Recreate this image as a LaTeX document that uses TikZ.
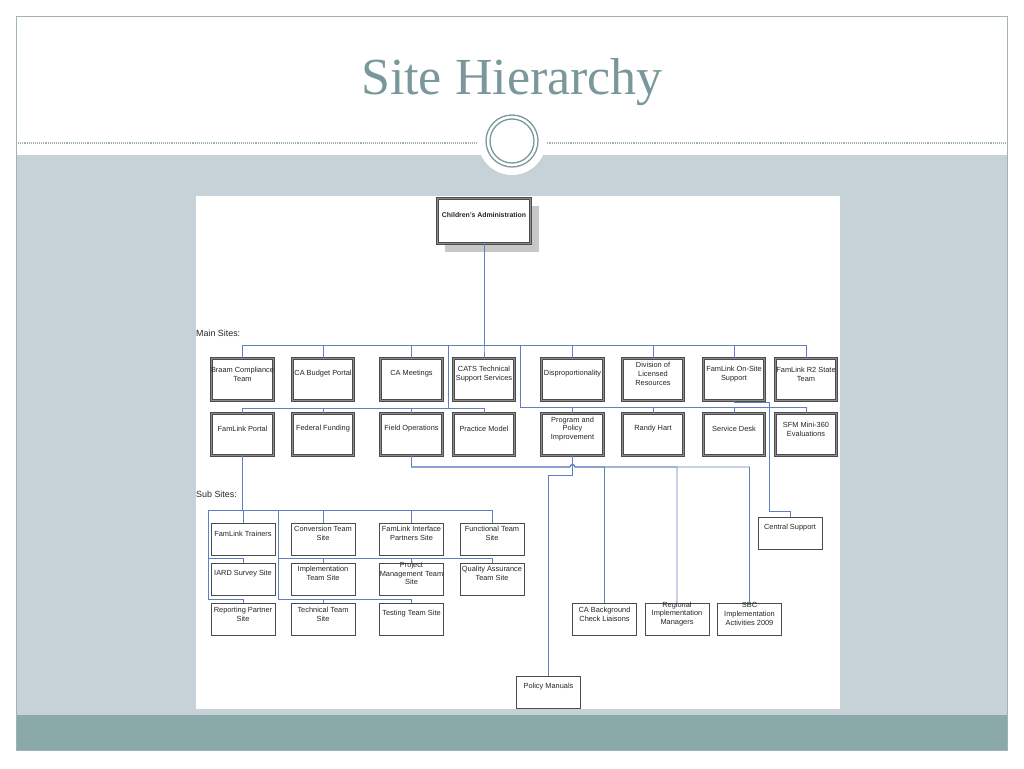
\documentclass[tikz,border=0pt]{standalone}
\usepackage{fontspec}
\setmainfont{Liberation Serif}
\setsansfont{Liberation Sans}
\usetikzlibrary{shapes,arrows,positioning,shadows}
\definecolor{bandgray}{RGB}{198,210,216}
\definecolor{footteal}{RGB}{138,170,170}
\definecolor{titleteal}{RGB}{122,152,155}
\definecolor{framegray}{RGB}{160,178,180}
\definecolor{linkblue}{RGB}{95,128,190}

\begin{document}
\begin{tikzpicture}[x=1pt,y=-1pt]
 \tikzset{site node/.style={rectangle, draw=black!70, double=black!45,
 		double distance=1.1pt, line width=0.75pt, fill=white,
 		minimum width=61.5pt, minimum height=42.5pt, inner sep=0pt}, }
 \tikzset{sub node/.style={rectangle, draw=black!70, line width=0.6pt,
 		fill=white, minimum width=64pt, minimum height=32pt, inner sep=0pt}, }
 \tikzset{root node/.style={site node, minimum width=93.4pt, minimum height=45.4pt,
 		drop shadow={shadow xshift=8pt, shadow yshift=-8pt, fill=black!22, opacity=1}}, }
 \tikzset{tag node/.style={font=\sffamily\fontsize{7.4}{8.7}\selectfont,
 		text=black!85, align=center, yshift=5.5pt}, }
 \tikzset{head node/.style={anchor=base west, inner sep=0pt, text=black!85,
 		font=\sffamily\fontsize{8.9}{10}\selectfont}, }
 \tikzset{conector/.style={draw=linkblue, line width=0.85pt},}
 \useasboundingbox (0,0) rectangle (1024,768);
 \fill[white] (0,0) rectangle (1024,768);
 \fill[bandgray] (16,155) rectangle (1007,715);
 \fill[footteal] (16,715) rectangle (1007,750);
 \draw[framegray, line width=0.8pt] (16,16) rectangle (1007,750);
 \draw[framegray, densely dotted, line width=1.1pt] (16,143) -- (1007,143);
 \fill[white] (512,141) circle[radius=34pt];
 \draw[titleteal, line width=1.3pt] (512,141) circle[radius=26pt];
 \draw[titleteal, line width=1.3pt] (512,141) circle[radius=22pt];
 \fill[white] (196,196) rectangle (840,709);
 \node[anchor=base, text=titleteal, font=\fontsize{52}{54}\selectfont] (title) at (512,94) {Site Hierarchy};

 \node[root node, label={[tag node, font=\sffamily\bfseries\fontsize{6.9}{8}\selectfont]center:Children's Administration}] (ca) at (484,221) {};
 \node[head node] (mainsites) at (196,336.5) {Main Sites:};
 \node[head node] (subsites) at (196,497.5) {Sub Sites:};

 \node[site node, label={[tag node]center:Braam Compliance\\Team}] (m1) at (242.5,379.5) {};
 \node[site node, label={[tag node]center:CA Budget Portal}] (m2) [right=18.25pt of m1] {};
 \node[site node, label={[tag node]center:CA Meetings}] (m3) [right=26.25pt of m2] {};
 \node[site node, label={[tag node]center:CATS Technical\\Support Services}] (m4) [right=10.25pt of m3] {};
 \node[site node, label={[tag node]center:Disproportionality}] (m5) [right=26.25pt of m4] {};
 \node[site node, label={[tag node]center:Division of\\Licensed\\Resources}] (m6) [right=18.25pt of m5] {};
 \node[site node, label={[tag node]center:FamLink On-Site\\Support}] (m7) [right=18.75pt of m6] {};
 \node[site node, label={[tag node]center:FamLink R2 State\\Team}] (m8) [right=9.75pt of m7] {};

 \node[site node, label={[tag node]center:FamLink Portal}] (m9) [below=11.75pt of m1] {};
 \node[site node, label={[tag node]center:Federal Funding}] (m10) [below=11.75pt of m2] {};
 \node[site node, label={[tag node]center:Field Operations}] (m11) [below=11.75pt of m3] {};
 \node[site node, label={[tag node]center:Practice Model}] (m12) [below=11.75pt of m4] {};
 \node[site node, label={[tag node]center:Program and\\Policy\\Improvement}] (m13) [below=11.75pt of m5] {};
 \node[site node, label={[tag node]center:Randy Hart}] (m14) [below=11.75pt of m6] {};
 \node[site node, label={[tag node]center:Service Desk}] (m15) [below=11.75pt of m7] {};
 \node[site node, label={[tag node]center:SFM Mini-360\\Evaluations}] (m16) [below=11.75pt of m8] {};

 \node[sub node, label={[tag node]center:FamLink Trainers}] (s1) at (243,539) {};
 \node[sub node, label={[tag node]center:Conversion Team\\Site}] (s2) [right=15.4pt of s1] {};
 \node[sub node, label={[tag node]center:FamLink Interface\\Partners Site}] (s3) [right=23.9pt of s2] {};
 \node[sub node, label={[tag node]center:Functional Team\\Site}] (s4) [right=15.9pt of s3] {};
 \node[sub node, label={[tag node]center:IARD Survey Site}] (s5) [below=7.4pt of s1] {};
 \node[sub node, label={[tag node]center:Implementation\\Team Site}] (s6) [below=7.4pt of s2] {};
 \node[sub node, label={[tag node]center:Project\\Management Team\\Site}] (s7) [below=7.4pt of s3] {};
 \node[sub node, label={[tag node]center:Quality Assurance\\Team Site}] (s8) [below=7.4pt of s4] {};
 \node[sub node, label={[tag node]center:Reporting Partner\\Site}] (s9) [below=7.9pt of s5] {};
 \node[sub node, label={[tag node]center:Technical Team\\Site}] (s10) [below=7.9pt of s6] {};
 \node[sub node, label={[tag node]center:Testing Team Site}] (s11) [below=7.9pt of s7] {};

 \node[sub node, label={[tag node]center:Central Support}] (cs) at (790,533) {};
 \node[sub node, label={[tag node]center:CA Background\\Check Liaisons}] (f1) at (604.5,619.5) {};
 \node[sub node, label={[tag node]center:Regional\\Implementation\\Managers}] (f2) [right=7.9pt of f1] {};
 \node[sub node, label={[tag node]center:SBC\\Implementation\\Activities 2009}] (f3) [right=7.9pt of f2] {};
 \node[sub node, label={[tag node]center:Policy Manuals}] (pm) at (548.5,692) {};

 \coordinate (j1) at (448,345.7);
 \coordinate (j2) at (520,345.7);
 \coordinate (j3) at (208,510.7);
 \coordinate (j4) at (278,510.7);
 \coordinate (h1) at (570,467);
 \foreach \n in {1,...,8}
 \draw[conector] (ca.south) |- ([yshift=12pt]m\n.north) -- (m\n.north);
 \foreach \n in {9,...,12}
 \draw[conector] (j1) |- ([yshift=4pt]m\n.north) -- (m\n.north);
 \foreach \n in {13,...,16}
 \draw[conector] (j2) |- ([yshift=5pt]m\n.north) -- (m\n.north);
 \draw[conector] (m7.south) -- ++(0,1.5) -| ([xshift=-21pt,yshift=5pt]cs.north) -| (cs.north);
 \foreach \c in {f1,f2,f3}
 \draw[conector] (m11.south) |- (h1) arc[start angle=180, end angle=0, radius=2.5pt] -| (\c.north);
 \draw[conector] (m13.south) -- ++(0,19) -| (pm.north);
 \foreach \n in {1,...,4}
 \draw[conector] (m9.south) |- ([yshift=12pt]s\n.north) -- (s\n.north);
 \foreach \n in {5,9}
 \draw[conector] (m9.south) |- (j3) |- ([yshift=4pt]s\n.north) -- (s\n.north);
 \foreach \n in {6,7,8,10,11}
 \draw[conector] (m9.south) |- (j4) |- ([yshift=4pt]s\n.north) -- (s\n.north);
% %%
\end{tikzpicture}
\end{document}
